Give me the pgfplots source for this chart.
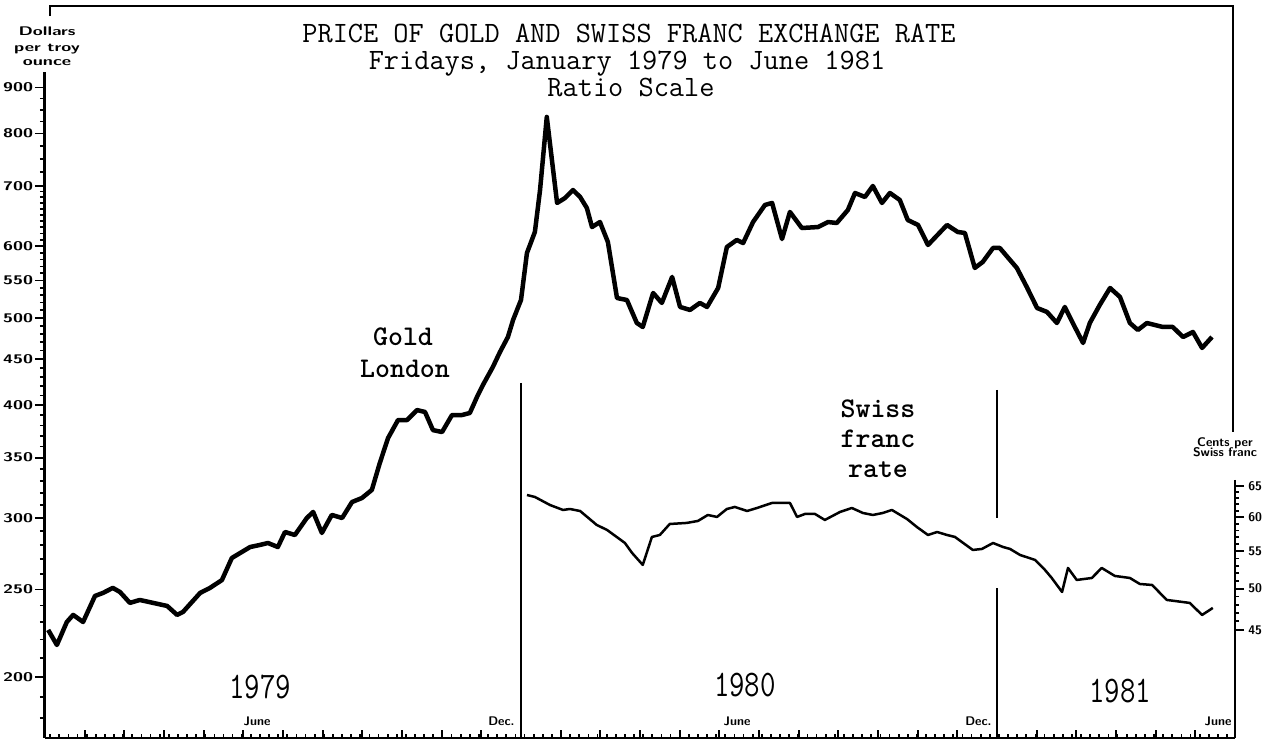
\documentclass[border=0pt]{standalone}
\usepackage{fontspec}
\usepackage{graphicx}
\usepackage{pgfplots}
\pgfplotsset{compat=1.18}
\newfontfamily\ttb{lmmonolt10-bold}[Extension=.otf]
\newfontfamily\wideb{lmsans10-bold}[Extension=.otf, FakeStretch=1.45]
\newcommand{\tinyf}{\sffamily\bfseries\fontsize{5}{6}\selectfont}
\newcommand{\widef}{\wideb\fontsize{5}{6}\selectfont}
\newcommand{\ttl}{\ttfamily\fontsize{11.8}{13}\selectfont}
\newcommand{\ttbl}{\ttb\fontsize{11.4}{13}\selectfont}

\pgfplotstableread{
m v
0.08 225.5
0.30 217.0
0.55 230.1
0.71 234.3
0.96 230.1
1.26 245.9
1.46 247.8
1.71 251.0
1.89 248.4
2.14 241.6
2.39 243.4
3.08 239.7
3.33 234.3
3.48 236.1
3.91 247.8
4.16 251.0
4.46 256.1
4.71 270.9
4.92 274.4
5.17 278.6
5.42 280.1
5.62 281.5
5.87 278.6
6.05 289.5
6.30 287.3
6.60 300.0
6.76 304.7
6.98 288.8
7.23 302.4
7.49 300.0
7.74 312.5
7.99 315.7
8.24 322.3
8.44 345.2
8.65 368.0
8.90 385.3
9.13 385.3
9.38 395.2
9.58 393.2
9.78 375.5
10.01 373.6
10.26 390.2
10.51 390.2
10.71 392.2
10.89 408.5
11.04 421.2
11.29 441.0
11.47 458.2
11.67 476.1
11.80 497.2
11.90 510.1
12.00 523.2
12.15 589.9
12.35 622.4
12.48 692.7
12.65 834.6
12.81 729.0
12.91 670.2
13.11 678.7
13.31 692.7
13.49 680.5
13.66 661.7
13.79 630.3
13.99 638.4
14.19 606.7
14.42 525.9
14.67 523.2
14.92 493.4
15.07 488.4
15.33 532.7
15.55 519.3
15.81 554.9
16.01 514.0
16.26 510.1
16.51 519.3
16.69 514.0
16.97 539.5
17.19 599.0
17.44 609.8
17.60 605.1
17.85 638.4
18.15 666.8
18.33 670.2
18.58 611.3
18.78 655.0
19.08 628.7
19.49 630.3
19.74 638.4
19.96 636.8
20.24 658.3
20.42 687.5
20.67 680.5
20.87 699.9
21.10 670.2
21.30 687.5
21.55 675.3
21.75 641.7
22.01 633.6
22.26 602.1
22.74 633.6
23.01 622.4
23.19 620.8
23.44 567.8
23.64 576.5
23.90 597.5
24.07 597.5
24.50 567.8
24.75 540.9
25.01 512.7
25.26 507.5
25.51 493.4
25.71 514.0
25.91 493.4
26.17 468.9
26.34 493.4
26.59 516.6
26.85 539.5
27.10 527.3
27.35 493.4
27.55 484.7
27.78 493.4
28.18 488.4
28.43 488.4
28.69 476.1
28.94 482.2
29.17 463.0
29.42 476.1
}\gold

\pgfplotstableread{
m v
12.15 63.50
12.35 63.18
12.73 61.90
13.06 61.12
13.23 61.27
13.49 60.96
13.91 58.82
14.17 58.08
14.62 56.18
14.80 54.77
15.07 53.12
15.30 57.05
15.50 57.34
15.75 58.97
16.18 59.13
16.46 59.43
16.71 60.34
16.94 60.04
17.19 61.27
17.39 61.59
17.70 60.96
17.95 61.43
18.33 62.22
18.78 62.22
18.96 60.04
19.16 60.50
19.41 60.50
19.66 59.58
20.04 60.80
20.34 61.43
20.62 60.65
20.87 60.34
21.12 60.65
21.35 61.12
21.73 59.73
21.98 58.52
22.26 57.34
22.49 57.78
22.74 57.34
22.94 57.05
23.39 55.19
23.62 55.33
23.90 56.18
24.15 55.61
24.33 55.33
24.58 54.49
24.96 53.80
25.21 52.44
25.38 51.38
25.64 49.58
25.79 52.71
26.01 51.12
26.39 51.38
26.64 52.71
26.97 51.65
27.35 51.38
27.60 50.60
27.91 50.47
28.28 48.58
28.86 48.21
29.17 46.75
29.44 47.60
}\swiss

\begin{document}
\begin{tikzpicture}
\pgfplotsset{every axis/.append style={scale only axis, width=476pt, height=292.8pt,
  xmin=0, xmax=30, at={(0,0)}, anchor=south west, axis line style={draw=none},
  tick style={black, line width=0.7pt}, clip=false}}

% gold axis
\begin{axis}[ymode=log, ymin=171.18, ymax=1107.8, tick pos=left, tick align=outside,
  xtick=\empty,
  ytick={200,250,300,350,400,450,500,550,600,700,800,900},
  yticklabels={200,250,300,350,400,450,500,550,600,700,800,900},
  minor ytick={180,190,210,220,230,240,260,270,280,290,310,320,330,340,360,370,380,390,410,420,430,440,460,470,480,490,510,520,530,540,560,570,580,590,610,620,630,640,650,660,670,680,690,725,750,775,825,850,875},
  major tick length=4pt, minor tick length=2pt,
  yticklabel style={font=\widef, inner sep=0.6pt}]
\addplot[black, line width=1.8pt, line join=round] table[x=m, y=v] {\gold};
\end{axis}

% swiss franc axis
\begin{axis}[ymode=log, ymin=34.16, ymax=221.1, tick pos=right, tick align=outside,
  xtick=\empty,
  ytick={45,50,55,60,65}, yticklabels={45,50,55,60,65},
  minor ytick={46,47,48,49,51,52,53,54,56,57,58,59,61,62,63,64},
  major tick length=3.6pt, minor tick length=1.6pt,
  yticklabel style={font=\tinyf, inner sep=1.5pt}]
\addplot[black, line width=1.0pt, line join=round] table[x=m, y=v] {\swiss};
\end{axis}

% time axis and frame
\begin{axis}[ymin=0, ymax=1, ytick=\empty, tick pos=left, tick align=inside,
  xtick={0,1,...,30}, xticklabels={},
  minor xtick={0.13,0.36,...,29.9},
  major tick length=3.2pt, minor tick length=1.4pt]
\addplot[draw=none] coordinates {(0,0) (30,1)};
\draw[line width=1.2pt] (rel axis cs:0,0.9098) -- (rel axis cs:0,0);
\draw[line width=0.9pt] (rel axis cs:0,0) -- (rel axis cs:1,0);
\draw[line width=0.9pt] (rel axis cs:1,0.3525) -- (rel axis cs:1,0);
\draw[line width=1.0pt] (rel axis cs:0.0042,0.9863) -- (rel axis cs:0.0042,1) -- (rel axis cs:0.9983,1) -- (rel axis cs:0.9983,0.418);
\draw[line width=0.8pt] (rel axis cs:0.4,0.485) -- (rel axis cs:0.4,0);
\draw[line width=0.8pt] (rel axis cs:0.8,0.4754) -- (rel axis cs:0.8,0.3005);
\draw[line width=0.8pt] (rel axis cs:0.8,0.2049) -- (rel axis cs:0.8,0);
\end{axis}

% titles
\node[anchor=base, inner sep=0] at (233.6pt,278.2pt) {\ttl PRICE OF GOLD AND SWISS FRANC EXCHANGE RATE};
\node[anchor=base, inner sep=0] at (232.8pt,267.4pt) {\ttl Fridays, January 1979 to June 1981};
\node[anchor=base, inner sep=0] at (234.4pt,256.6pt) {\ttl Ratio Scale};
% left unit label
\node[anchor=base, inner sep=0] at (0.8pt,280.8pt) {\widef Dollars};
\node[anchor=base, inner sep=0] at (0.8pt,274.4pt) {\widef per troy};
\node[anchor=base, inner sep=0] at (0.8pt,268.8pt) {\widef ounce};
% right unit label
\node[anchor=base, inner sep=0] at (472pt,116.6pt) {\tinyf\addfontfeature{FakeStretch=1.25} Cents per};
\node[anchor=base, inner sep=0] at (472pt,112.4pt) {\tinyf\addfontfeature{FakeStretch=1.25} Swiss franc};
% series labels
\node[anchor=base, inner sep=0] at (143.2pt,157pt) {\ttbl Gold};
\node[anchor=base, inner sep=0] at (144pt,144.2pt) {\ttbl London};
\node[anchor=base, inner sep=0] at (333.2pt,128pt) {\ttbl Swiss};
\node[anchor=base, inner sep=0] at (333.2pt,116pt) {\ttbl franc};
\node[anchor=base, inner sep=0] at (333.2pt,104pt) {\ttbl rate};
% years
\node[anchor=base, inner sep=0] at (86pt,15.6pt) {\scalebox{1}[1.25]{\ttfamily\fontsize{12}{13}\selectfont 1979}};
\node[anchor=base, inner sep=0] at (280pt,16.4pt) {\scalebox{1}[1.25]{\ttfamily\fontsize{12}{13}\selectfont 1980}};
\node[anchor=base, inner sep=0] at (430pt,14pt) {\scalebox{1}[1.25]{\ttfamily\fontsize{12}{13}\selectfont 1981}};
% month labels
\node[anchor=base, inner sep=0] at (84.8pt,5pt) {\tinyf June};
\node[anchor=base east, inner sep=0] at (188pt,5pt) {\tinyf Dec.};
\node[anchor=base, inner sep=0] at (276.8pt,5pt) {\tinyf June};
\node[anchor=base east, inner sep=0] at (378.8pt,5pt) {\tinyf Dec.};
\node[anchor=base east, inner sep=0] at (474.8pt,5pt) {\tinyf June};

\pgfresetboundingbox
\path (-18pt,-1.6pt) rectangle (490.4pt,295.2pt);
\end{tikzpicture}
\end{document}
